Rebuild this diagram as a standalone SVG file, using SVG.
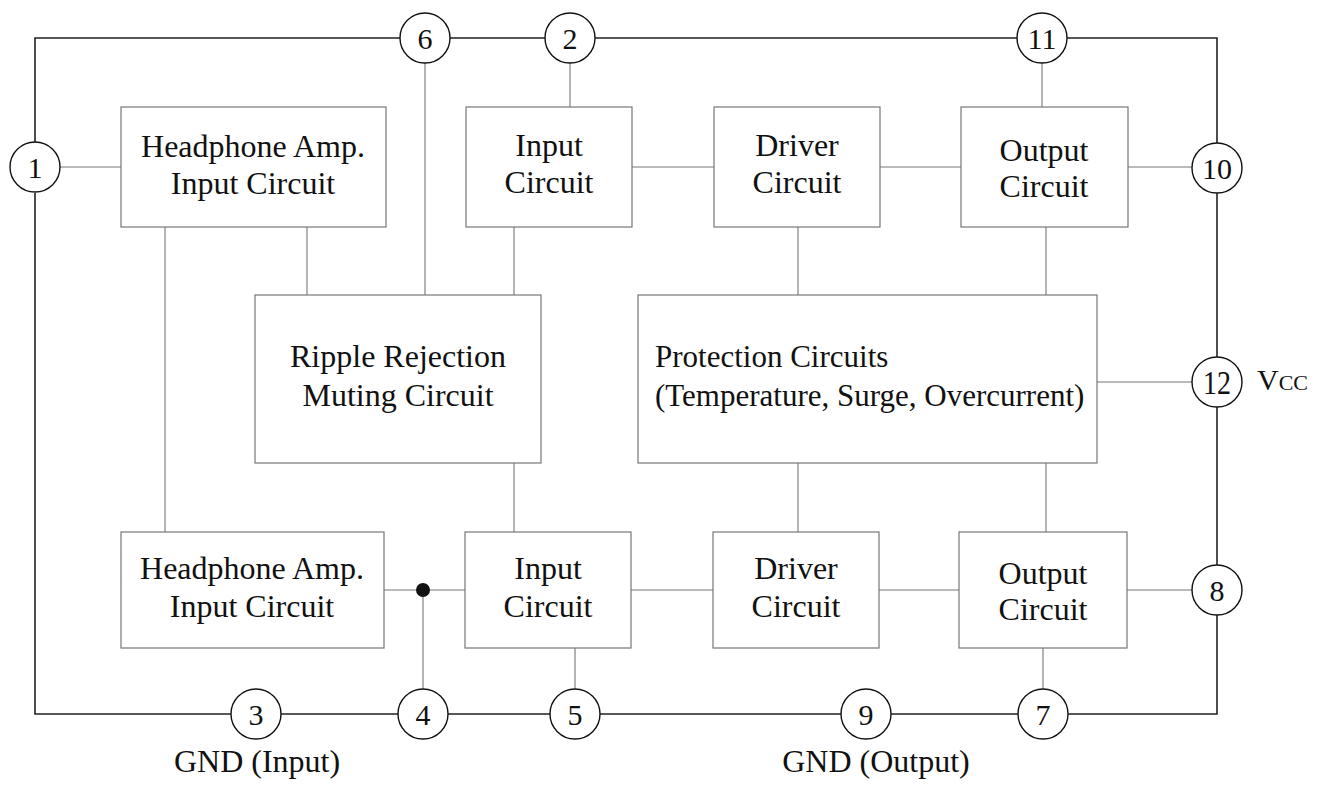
<svg xmlns="http://www.w3.org/2000/svg" width="1326" height="787" viewBox="0 0 1326 787">
<style>
text{font-family:"Liberation Serif","Times New Roman",serif;fill:#111}
.box{fill:#fff;stroke:#777;stroke-width:1.2}
.lbl{font-size:32px;text-anchor:middle}
.pin circle{fill:#fff;stroke:#111;stroke-width:1.4}
.pin text{font-size:30px;text-anchor:middle}
.frame{fill:none;stroke:#222;stroke-width:1.6}
.wire{fill:none;stroke:#777;stroke-width:1.1}
</style>
<rect width="1326" height="787" fill="#fff"/>
<g id="connectors">
<path class="frame" d="M35,142 V38 H400 M450,38 H545 M595,38 H1017 M1067,38 H1217 V143 M1217,193 V357 M1217,407 V565 M1217,615 V714 H1068 M1018,714 H891 M841,714 H600 M550,714 H448 M398,714 H281 M231,714 H35 V193"/>
<path class="wire" d="M60,167 H121 M425,63 V295 M570,63 V107 M1042,63 V107 M165,227 V532 M307,227 V295 M514,227 V295 M798,227 V295 M1046,227 V295 M632,167 H714 M880,167 H961 M1128,167 H1192 M514,463 V532 M798,463 V532 M1046,463 V532 M1097,382 H1192 M384,590 H465 M423,590 V689 M631,590 H713 M879,590 H959 M1127,590 H1192 M575,648 V689 M1043,648 V689"/>
<circle cx="423" cy="590" r="7" fill="#111"/>
</g>
<g id="hp-top"><rect class="box" x="121" y="107" width="265" height="120"/><text class="lbl" x="253" y="157">Headphone Amp.</text><text class="lbl" x="253" y="194">Input Circuit</text></g>
<g id="in-top"><rect class="box" x="466" y="107" width="166" height="120"/><text class="lbl" x="549" y="156">Input</text><text class="lbl" x="549" y="193">Circuit</text></g>
<g id="drv-top"><rect class="box" x="714" y="107" width="166" height="120"/><text class="lbl" x="797" y="156">Driver</text><text class="lbl" x="797" y="193">Circuit</text></g>
<g id="out-top"><rect class="box" x="961" y="107" width="167" height="120"/><text class="lbl" x="1044" y="161">Output</text><text class="lbl" x="1044" y="197">Circuit</text></g>
<g id="ripple"><rect class="box" x="255" y="295" width="286" height="168"/><text class="lbl" x="398" y="367">Ripple Rejection</text><text class="lbl" x="398" y="406">Muting Circuit</text></g>
<g id="protect"><rect class="box" x="638" y="295" width="459" height="168"/><text x="655" y="367" style="font-size:31px">Protection Circuits</text><text x="655" y="406" style="font-size:31px">(Temperature, Surge, Overcurrent)</text></g>
<g id="hp-bot"><rect class="box" x="121" y="532" width="263" height="116"/><text class="lbl" x="252" y="579">Headphone Amp.</text><text class="lbl" x="252" y="617">Input Circuit</text></g>
<g id="in-bot"><rect class="box" x="465" y="532" width="166" height="116"/><text class="lbl" x="548" y="579">Input</text><text class="lbl" x="548" y="617">Circuit</text></g>
<g id="drv-bot"><rect class="box" x="713" y="532" width="166" height="116"/><text class="lbl" x="796" y="579">Driver</text><text class="lbl" x="796" y="617">Circuit</text></g>
<g id="out-bot"><rect class="box" x="959" y="532" width="168" height="116"/><text class="lbl" x="1043" y="584">Output</text><text class="lbl" x="1043" y="620">Circuit</text></g>
<g id="pin1" class="pin"><circle cx="35" cy="167" r="25"/><text x="35" y="178">1</text></g>
<g id="pin6" class="pin"><circle cx="425" cy="38" r="25"/><text x="425" y="49">6</text></g>
<g id="pin2" class="pin"><circle cx="570" cy="38" r="25"/><text x="570" y="49">2</text></g>
<g id="pin11" class="pin"><circle cx="1042" cy="38" r="25"/><text x="1042" y="49">11</text></g>
<g id="pin10" class="pin"><circle cx="1217" cy="168" r="25"/><text x="1217" y="179">10</text></g>
<g id="pin12" class="pin"><circle cx="1217" cy="382" r="25"/><text x="1217" y="394" style="font-size:34px" textLength="28" lengthAdjust="spacingAndGlyphs">12</text></g>
<g id="pin8" class="pin"><circle cx="1217" cy="590" r="25"/><text x="1217" y="601">8</text></g>
<g id="pin3" class="pin"><circle cx="256" cy="714" r="25"/><text x="256" y="725">3</text></g>
<g id="pin4" class="pin"><circle cx="423" cy="714" r="25"/><text x="423" y="725">4</text></g>
<g id="pin5" class="pin"><circle cx="575" cy="714" r="25"/><text x="575" y="725">5</text></g>
<g id="pin9" class="pin"><circle cx="866" cy="714" r="25"/><text x="866" y="725">9</text></g>
<g id="pin7" class="pin"><circle cx="1043" cy="714" r="25"/><text x="1043" y="725">7</text></g>
<text x="1257" y="390" style="font-size:30px">V<tspan style="font-size:22px">CC</tspan></text>
<text class="lbl" x="257" y="772">GND (Input)</text>
<text class="lbl" x="876" y="772">GND (Output)</text>
</svg>
